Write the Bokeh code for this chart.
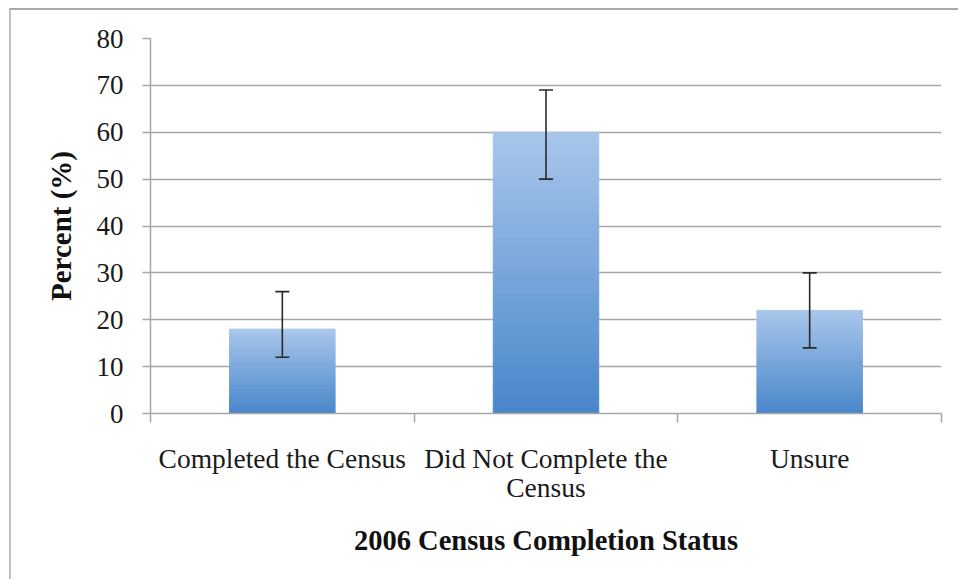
from bokeh.plotting import figure
from bokeh.models import Range1d, FixedTicker, ColumnDataSource, Whisker, TeeHead
from bokeh.embed import file_html
from bokeh.resources import INLINE

categories = ["Completed the Census", "Did Not Complete the\nCensus", "Unsure"]
percent = [18, 60, 22]
err_low = [12, 50, 14]
err_high = [26, 69, 30]
y_ticks = [0, 10, 20, 30, 40, 50, 60, 70, 80]

xpos = [i + 0.5 for i in range(len(categories))]

p = figure(width=949, height=571, output_backend="svg", toolbar_location=None,
           x_range=Range1d(0, len(categories)), y_range=Range1d(0, 80),
           min_border_left=139, min_border_right=19, min_border_top=28, min_border_bottom=168)
p.background_fill_color = "white"
p.border_fill_color = "white"
p.outline_line_color = None
p.styles = {"margin-top": "8px", "margin-left": "9px",
            "border-top": "2px solid #a9a9a9", "border-left": "2px solid #c0c0c0"}

# gradient bars (light top, dark bottom)
N = 40
top_c = (168, 198, 235)
bot_c = (72, 134, 202)
for k in range(N):
    f = (k + 0.5) / N
    c = tuple(int(round(bot_c[j] + (top_c[j] - bot_c[j]) * f)) for j in range(3))
    col = "#%02x%02x%02x" % c
    p.vbar(x=xpos, width=0.4,
           bottom=[v * k / N for v in percent], top=[v * (k + 1) / N for v in percent],
           fill_color=col, line_color=col, line_width=1)

src = ColumnDataSource(dict(x=xpos, lo=err_low, hi=err_high))
w = Whisker(base="x", lower="lo", upper="hi", source=src, line_color="#2a2a2a", line_width=1.6,
            level="overlay",
            upper_head=TeeHead(size=14, line_color="#2a2a2a", line_width=1.6),
            lower_head=TeeHead(size=14, line_color="#2a2a2a", line_width=1.6))
p.add_layout(w)

# grid
p.xgrid.visible = False
p.ygrid.ticker = FixedTicker(ticks=y_ticks)
p.ygrid.grid_line_color = "#a6a6a6"
p.ygrid.grid_line_width = 1.5

# y axis
p.yaxis.ticker = FixedTicker(ticks=y_ticks)
p.yaxis.axis_line_color = "#a6a6a6"
p.yaxis.axis_line_width = 1.5
p.yaxis.major_tick_line_color = "#a6a6a6"
p.yaxis.major_tick_line_width = 1.5
p.yaxis.major_tick_in = 0
p.yaxis.major_tick_out = 8
p.yaxis.minor_tick_line_color = None
p.yaxis.major_label_standoff = 19
p.yaxis.major_label_text_font = "Liberation Serif"
p.yaxis.major_label_text_font_size = "27px"
p.yaxis.major_label_text_color = "#1a1a1a"
p.yaxis.axis_label = "Percent (%)"
p.yaxis.axis_label_text_font = "Liberation Serif"
p.yaxis.axis_label_text_font_style = "bold"
p.yaxis.axis_label_text_font_size = "29px"
p.yaxis.axis_label_text_color = "#111111"
p.yaxis.axis_label_standoff = 17

# x axis
p.xaxis.ticker = FixedTicker(ticks=xpos, minor_ticks=list(range(len(categories) + 1)))
p.xaxis.major_label_overrides = {x: c for x, c in zip(xpos, categories)}
p.xaxis.axis_line_color = "#a6a6a6"
p.xaxis.axis_line_width = 1.5
p.xaxis.major_tick_line_color = None
p.xaxis.major_tick_in = 0
p.xaxis.major_tick_out = 0
p.xaxis.minor_tick_line_color = "#a6a6a6"
p.xaxis.minor_tick_line_width = 1.5
p.xaxis.minor_tick_in = 0
p.xaxis.minor_tick_out = 9
p.xaxis.major_label_standoff = 20
p.xaxis.major_label_text_font = "Liberation Serif"
p.xaxis.major_label_text_font_size = "27.5px"
p.xaxis.major_label_text_line_height = 0.95
p.xaxis.major_label_text_color = "#1a1a1a"
p.xaxis.axis_label = "2006 Census Completion Status"
p.xaxis.axis_label_text_font = "Liberation Serif"
p.xaxis.axis_label_text_font_style = "bold"
p.xaxis.axis_label_text_font_size = "28.5px"
p.xaxis.axis_label_text_color = "#111111"
p.xaxis.axis_label_standoff = 19

open("out.html", "w").write(file_html(p, INLINE))
